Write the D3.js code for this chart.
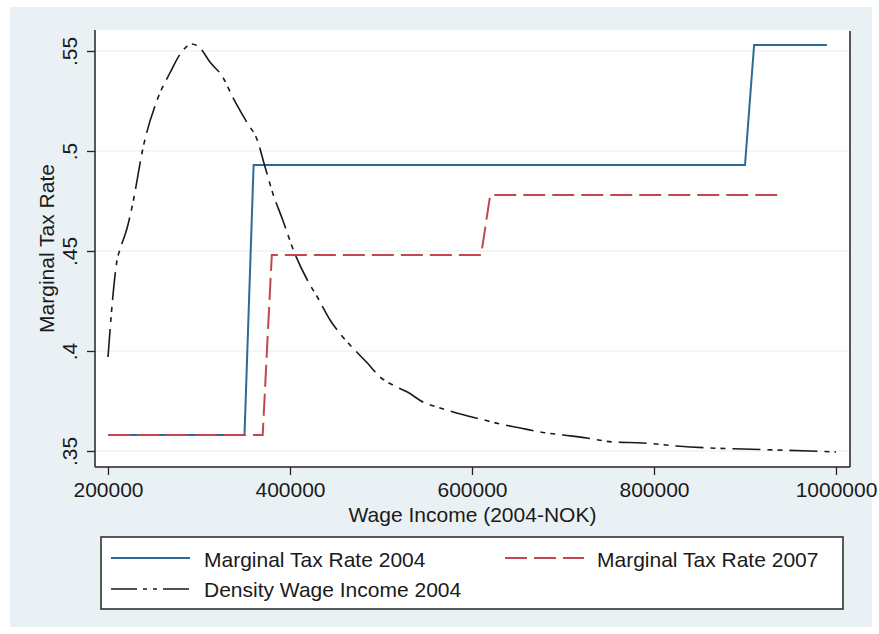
<!DOCTYPE html>
<html>
<head>
<meta charset="utf-8">
<script src="https://cdn.jsdelivr.net/npm/d3@7"></script>
<style>
html,body{margin:0;padding:0;background:#ffffff;}
svg{display:block;}
text{font-family:"Liberation Sans",Arial,Helvetica,sans-serif;fill:#1a1a1a;}
</style>
</head>
<body>
<svg id="chart" width="879" height="634"></svg>
<script>
// ---- data ----
const incomeMTR2004 = [200000, 350000, 360000, 900000, 910000, 990000];
const mtr2004       = [0.358, 0.358, 0.493, 0.493, 0.553, 0.553];

const incomeMTR2007 = [200000, 370000, 380000, 610000, 620000, 940000];
const mtr2007       = [0.358, 0.358, 0.448, 0.448, 0.478, 0.478];

const incomeDensity = [200000, 202000, 205000, 210000, 213000, 221000, 228000, 238000, 254000, 268000,
  281000, 292000, 301000, 312000, 326000, 337000, 353000, 364000, 372000, 381000,
  392000, 405000, 419000, 430000, 444000, 458000, 468000, 485000, 499000, 515000,
  529000, 546000, 565000, 583000, 609000, 631000, 653000, 675000, 700000, 726000,
  755000, 788000, 825000, 862000, 898000, 935000, 971000, 1000000];
const densityScaled = [0.397, 0.409, 0.4255, 0.4455, 0.4505, 0.4615, 0.4755, 0.5005, 0.5255, 0.539,
  0.5495, 0.5535, 0.5515, 0.5445, 0.537, 0.527, 0.514, 0.5055, 0.493, 0.479,
  0.4655, 0.449, 0.4355, 0.427, 0.4155, 0.407, 0.402, 0.394, 0.387, 0.3825,
  0.3795, 0.3745, 0.3715, 0.369, 0.366, 0.3635, 0.3615, 0.3595, 0.358, 0.3565,
  0.3545, 0.354, 0.3525, 0.3515, 0.351, 0.3505, 0.35, 0.3495];

const xTicks = [200000, 400000, 600000, 800000, 1000000];
const xTickLabels = ["200000", "400000", "600000", "800000", "1000000"];
const yTicks = [0.35, 0.40, 0.45, 0.50, 0.55];
const yTickLabels = [".35", ".4", ".45", ".5", ".55"];

const seriesNames = ["Marginal Tax Rate 2004", "Marginal Tax Rate 2007", "Density Wage Income 2004"];
const xTitle = "Wage Income (2004-NOK)";
const yTitle = "Marginal Tax Rate";

// ---- layout ----
const svg = d3.select("#chart");
const plot = {left: 95, right: 850, top: 30, bottom: 467};
const colBlue = "#2f6a96", colRed = "#c3474f", colBlack = "#1a1a1a";
const dashRed = "22,7", dashDens = "28,7,5,5,5,7";

// graph region background
svg.append("rect").attr("x", 0).attr("y", 0).attr("width", 879).attr("height", 634).attr("fill", "#ffffff");
svg.append("rect").attr("x", 10).attr("y", 7).attr("width", 862).attr("height", 620).attr("fill", "#eaf1f4");
// plot region
svg.append("rect").attr("x", plot.left).attr("y", plot.top)
  .attr("width", plot.right - plot.left).attr("height", plot.bottom - plot.top).attr("fill", "#ffffff");

const x = d3.scaleLinear().domain([200000, 1000000]).range([108, 836]);
const y = d3.scaleLinear().domain([0.35, 0.55]).range([451, 51]);

// gridlines
svg.append("g").selectAll("line").data(yTicks).join("line")
  .attr("x1", plot.left).attr("x2", plot.right)
  .attr("y1", d => y(d)).attr("y2", d => y(d))
  .attr("stroke", "#e6eef2").attr("stroke-width", 1.2);

// axes
const yAxis = d3.axisLeft(y).tickValues(yTicks).tickSize(8).tickFormat((d, i) => yTickLabels[i]);
const gy = svg.append("g").attr("transform", `translate(${plot.left},0)`).call(yAxis);
gy.select(".domain").remove();
gy.selectAll(".tick line").attr("stroke", "#222").attr("stroke-width", 1.3);
gy.selectAll(".tick text").attr("font-size", 21).attr("fill", "#1a1a1a")
  .attr("text-anchor", "middle").attr("x", 0).attr("dy", 0)
  .attr("transform", "translate(-18,0) rotate(-90)");
svg.append("line").attr("x1", plot.left).attr("x2", plot.left).attr("y1", plot.top).attr("y2", plot.bottom)
  .attr("stroke", "#222").attr("stroke-width", 1.5);

const xAxis = d3.axisBottom(x).tickValues(xTicks).tickSize(8).tickFormat((d, i) => xTickLabels[i]);
const gx = svg.append("g").attr("transform", `translate(0,${plot.bottom})`).call(xAxis);
gx.select(".domain").remove();
gx.selectAll(".tick line").attr("stroke", "#222").attr("stroke-width", 1.3);
gx.selectAll(".tick text").attr("font-size", 21).attr("fill", "#1a1a1a").attr("y", 30).attr("dy", 0);
svg.append("line").attr("x1", plot.left).attr("x2", plot.right).attr("y1", plot.bottom).attr("y2", plot.bottom)
  .attr("stroke", "#222").attr("stroke-width", 1.5);
// right frame line
svg.append("line").attr("x1", plot.right).attr("x2", plot.right).attr("y1", plot.top + 1).attr("y2", plot.bottom)
  .attr("stroke", "#222").attr("stroke-width", 1.5);

// titles
svg.append("text").attr("x", (plot.left + plot.right) / 2).attr("y", 522)
  .attr("text-anchor", "middle").attr("font-size", 21).text(xTitle);
svg.append("text").attr("transform", `translate(54,${(plot.top + plot.bottom) / 2}) rotate(-90)`)
  .attr("text-anchor", "middle").attr("font-size", 21).text(yTitle);

// lines
const line = d3.line().x(d => x(d[0])).y(d => y(d[1]));
const lineSmooth = d3.line().x(d => x(d[0])).y(d => y(d[1])).curve(d3.curveMonotoneX);

svg.append("path").datum(incomeMTR2004.map((v, i) => [v, mtr2004[i]]))
  .attr("d", line).attr("fill", "none").attr("stroke", colBlue).attr("stroke-width", 2);
svg.append("path").datum(incomeMTR2007.map((v, i) => [v, mtr2007[i]]))
  .attr("d", line).attr("fill", "none").attr("stroke", colRed).attr("stroke-width", 2)
  .attr("stroke-dasharray", dashRed);
svg.append("path").datum(incomeDensity.map((v, i) => [v, densityScaled[i]]))
  .attr("d", lineSmooth).attr("fill", "none").attr("stroke", colBlack).attr("stroke-width", 1.6)
  .attr("stroke-dasharray", dashDens);

// legend
const lg = svg.append("g");
lg.append("rect").attr("x", 101).attr("y", 537).attr("width", 742).attr("height", 72)
  .attr("fill", "#ffffff").attr("stroke", "#333").attr("stroke-width", 1.6);
const legendItems = [
  {name: seriesNames[0], color: colBlue, dash: null, lx: 111, tx: 204, ly: 558, ty: 567, w: 1.8},
  {name: seriesNames[1], color: colRed, dash: dashRed, lx: 505, tx: 597, ly: 558, ty: 567, w: 2},
  {name: seriesNames[2], color: colBlack, dash: "26,6,4,6,4,6", lx: 111, tx: 204, ly: 589, ty: 597, w: 1.6}
];
legendItems.forEach(it => {
  const l = lg.append("line").attr("x1", it.lx).attr("x2", it.lx + 79).attr("y1", it.ly).attr("y2", it.ly)
    .attr("stroke", it.color).attr("stroke-width", it.w);
  if (it.dash) l.attr("stroke-dasharray", it.dash);
  lg.append("text").attr("x", it.tx).attr("y", it.ty).attr("font-size", 21).text(it.name);
});
</script>
</body>
</html>
